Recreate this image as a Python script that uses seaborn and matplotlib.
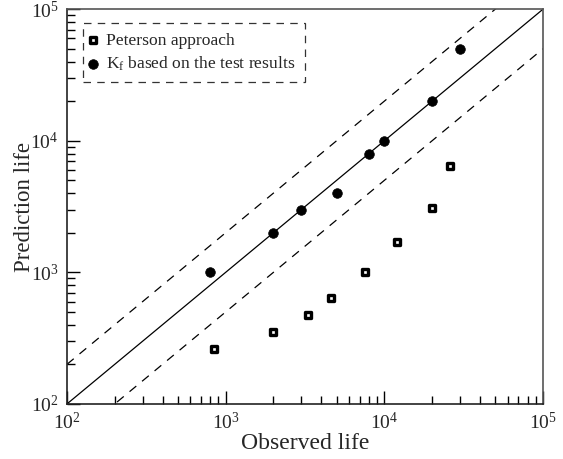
import matplotlib
matplotlib.use("Agg")
import matplotlib.pyplot as plt
import seaborn as sns
import numpy as np
import pandas as pd
from matplotlib.ticker import LogLocator, LogFormatterSciNotation, NullFormatter

# Data
peterson_obs = [850, 2000, 3300, 4600, 7600, 12000, 20000, 26000]
peterson_pred = [260, 350, 470, 640, 1000, 1700, 3100, 6400]
kf_obs = [800, 2000, 3000, 5000, 8000, 10000, 20000, 30000]
kf_pred = [1000, 2000, 3000, 4000, 8000, 10000, 20000, 50000]
ref_range = [1e2, 1e5]
band_factor = 2.0

sns.set_theme(style="white")
plt.rcParams['font.family'] = ['Liberation Serif', 'DejaVu Serif']
plt.rcParams['mathtext.fontset'] = 'custom'
plt.rcParams['mathtext.rm'] = 'Liberation Serif'
plt.rcParams['mathtext.it'] = 'Liberation Serif:italic'
plt.rcParams['mathtext.default'] = 'regular'

fig = plt.figure(figsize=(5.63, 4.59), dpi=100)
ax = fig.add_axes([0.119, 0.120, 0.8455, 0.860])

ref = np.array(ref_range)
ax.plot(ref, ref, color='black', lw=0.9, zorder=1)
ax.plot(ref, ref * band_factor, color='black', lw=0.9, ls=(0, (7, 6)), zorder=1)
ax.plot(ref, ref / band_factor, color='black', lw=0.9, ls=(0, (7, 6)), zorder=1)

df_p = pd.DataFrame({'obs': peterson_obs, 'pred': peterson_pred})
df_k = pd.DataFrame({'obs': kf_obs, 'pred': kf_pred})

sns.scatterplot(data=df_p, x='obs', y='pred', ax=ax, marker='s', s=20,
                facecolor='white', edgecolor='black', linewidth=2.4,
                label='Peterson approach', zorder=3)
sns.scatterplot(data=df_k, x='obs', y='pred', ax=ax, marker='o', s=48,
                color='black', edgecolor='black', linewidth=0.5,
                label='K$_\\mathrm{f}$ based on the test results', zorder=3)

ax.set_xscale('log')
ax.set_yscale('log')
ax.set_xlim(1e2, 1e5)
ax.set_ylim(1e2, 1e5)

for axis in (ax.xaxis, ax.yaxis):
    axis.set_major_locator(LogLocator(base=10, numticks=10))
    axis.set_minor_locator(LogLocator(base=10, subs=np.arange(2, 10), numticks=10))
    axis.set_major_formatter(LogFormatterSciNotation())
    axis.set_minor_formatter(NullFormatter())

ax.tick_params(axis='both', which='major', direction='in', length=9.5, width=1.0,
               labelsize=14, color='black', bottom=True, left=True, top=False, right=False, pad=6)
ax.tick_params(axis='both', which='minor', direction='in', length=6, width=1.0,
               color='black', bottom=True, left=True, top=False, right=False)

for side in ['top', 'right']:
    ax.spines[side].set_color('#555555')
    ax.spines[side].set_linewidth(1.2)
for side in ['left', 'bottom']:
    ax.spines[side].set_color('#222222')
    ax.spines[side].set_linewidth(1.2)

ax.set_xlabel('Observed life', fontsize=17, labelpad=0)
ax.set_ylabel('Prediction life', fontsize=16.5, labelpad=-3)

leg = ax.legend(loc='upper left', bbox_to_anchor=(0.0336, 0.9646), borderaxespad=0,
                fontsize=12.6, frameon=True, fancybox=False,
                handletextpad=0.77, borderpad=0.55, labelspacing=0.3,
                handlelength=0.01)
frame = leg.get_frame()
frame.set_edgecolor('black')
frame.set_linestyle((0, (6, 5)))
frame.set_linewidth(0.9)

fig.savefig('out.png', dpi=100)
